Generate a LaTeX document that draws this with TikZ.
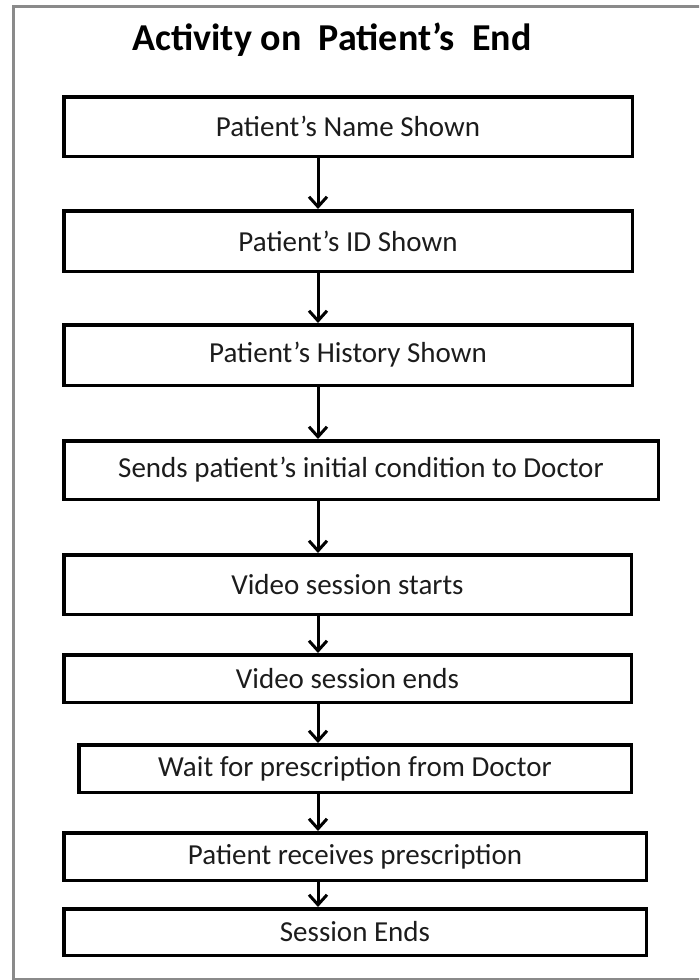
\documentclass[tikz,border=0pt]{standalone}
\usepackage{fontspec}
\setmainfont{Carlito}
\usetikzlibrary{arrows.meta}
\definecolor{framegray}{HTML}{8A8A8A}
\definecolor{bodytext}{HTML}{1C1C1C}
\begin{document}
\begin{tikzpicture}[x=1pt,y=-1pt,
  stepbox/.style={draw=black, line width=3.5pt, inner sep=0pt,
    font=\fontsize{29}{34}\selectfont, text=bodytext},
  flow/.style={draw=black, line width=3pt,
    -{Straight Barb[length=10pt,width=18pt]}},
  heading/.style={font=\bfseries\fontsize{38}{44}\selectfont, anchor=base}]
\useasboundingbox (0,0) rectangle (699,980);
\clip (0,0) rectangle (699,980);

% outer frame (its right side runs past the page edge)
\draw[framegray, line width=3pt] (710,6) -- (13,6) -- (13,979) -- (710,979);

\node[heading] (title) at (332,50) {Activity on~ Patient’s~ End};

% process steps
\node[stepbox, minimum width=568.5pt, minimum height=59.5pt] (n1) at (348,126.5) {Patient’s Name Shown};
\node[stepbox, minimum width=568.5pt, minimum height=60.5pt] (n2) at (348,241) {Patient’s ID Shown};
\node[stepbox, minimum width=568.5pt, minimum height=60.5pt] (n3) at (348,355) {Patient’s History Shown};
\node[stepbox, minimum width=594.5pt, minimum height=58.5pt] (n4) at (361,470) {Sends patient’s initial condition to Doctor};
\node[stepbox, minimum width=567.5pt, minimum height=59.5pt] (n5) at (347.5,584.5) {Video session starts};
\node[stepbox, minimum width=567.5pt, minimum height=47.5pt] (n6) at (347.5,678.5) {Video session ends};
\node[stepbox, minimum width=552.5pt, minimum height=47.5pt] (n7) at (355,768.5) {Wait for prescription from Doctor};
\node[stepbox, minimum width=582.5pt, minimum height=47.5pt] (n8) at (355,856.5) {Patient receives prescription};
\node[stepbox, minimum width=582.5pt, minimum height=46.5pt] (n9) at (355,932) {Session Ends};

% connectors run down a common vertical line
\coordinate (axis) at (318,0);
\foreach \a/\b in {n1/n2,n2/n3,n3/n4,n4/n5,n5/n6,n6/n7,n7/n8,n8/n9}
  \draw[flow] (\a.south -| axis) -- (\b.north -| axis);
\end{tikzpicture}
\end{document}
